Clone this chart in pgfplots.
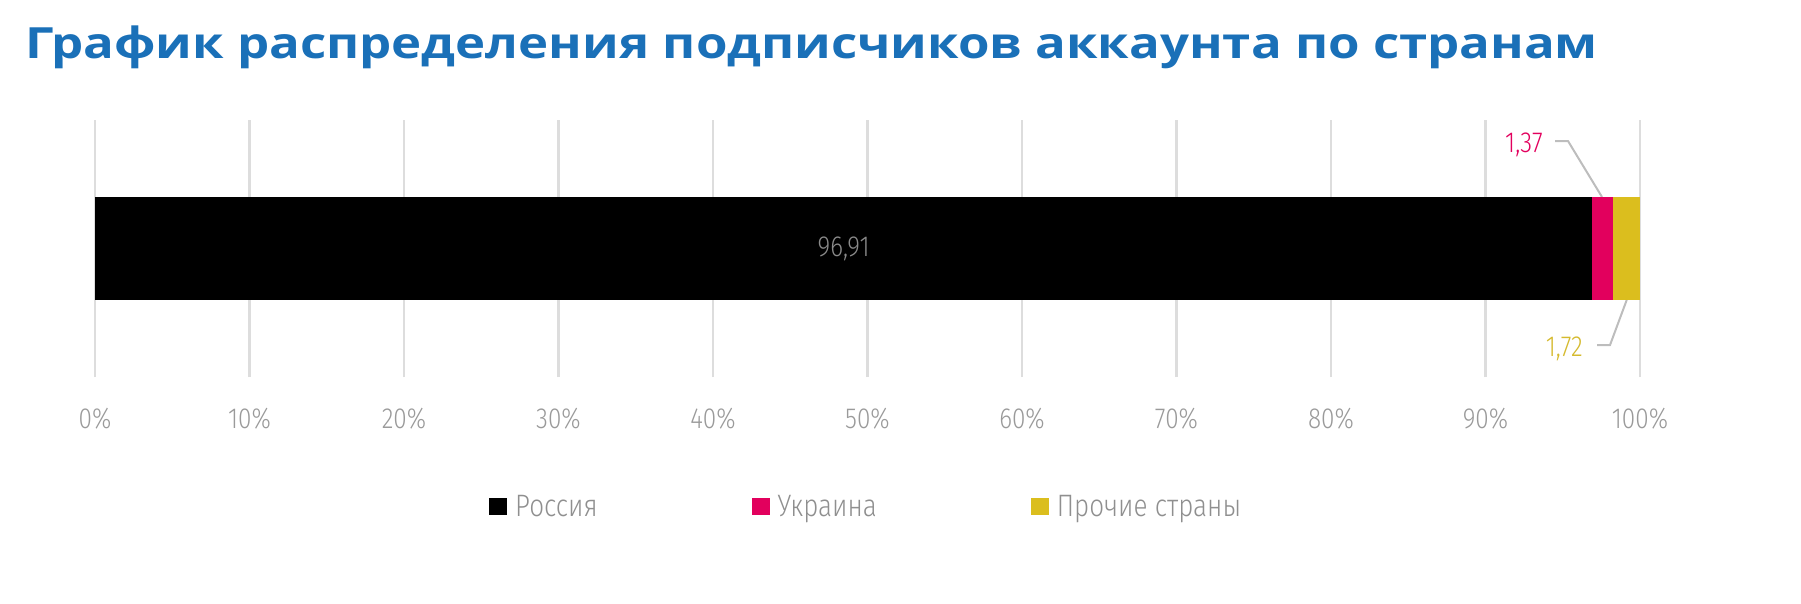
\documentclass[border=0pt]{standalone}
\usepackage{fontspec}
\usepackage{pgfplots}
\pgfplotsset{compat=1.18}
\setmainfont{Open Sans}
\newfontfamily\titlefont{Open Sans}[FakeStretch=1.185]
\newfontfamily\lightfont{Fira Sans Light}[FakeStretch=0.84]
\definecolor{titleblue}{HTML}{1A70B8}
\definecolor{rus}{HTML}{000000}
\definecolor{ukr}{HTML}{E2005D}
\definecolor{oth}{HTML}{DBBE1E}
\definecolor{othtxt}{HTML}{D5BA2E}
\definecolor{gridc}{HTML}{DDDDDD}
\definecolor{ticktxt}{HTML}{9A9A9A}
\definecolor{legtxt}{HTML}{8F8F8F}
\definecolor{valtxt}{HTML}{8A8A8A}
\definecolor{leader}{HTML}{BDBDBD}
\begin{document}
\begin{tikzpicture}
\useasboundingbox (0,0) rectangle (1801bp,-604bp);
\node[anchor=base west, inner sep=0, text=titleblue,
      font=\titlefont\fontsize{43bp}{43bp}\selectfont\bfseries] at (25bp,-58bp)
  {График распределения подписчиков аккаунта по странам};
\begin{axis}[
  at={(95bp,-377bp)}, anchor=south west,
  scale only axis,
  width=1545bp, height=257bp,
  xbar stacked,
  bar width=103bp,
  xmin=0, xmax=100,
  ymin=-1, ymax=1,
  enlargelimits=false,
  clip=false,
  xtick={0,10,...,100},
  ytick=\empty,
  xmajorgrids,
  grid style={draw=gridc, line width=2.6bp},
  axis line style={draw=none},
  tick style={draw=none},
  xticklabel={\pgfmathprintnumber[assume math mode=true]{\tick}\%},
  xticklabel style={anchor=base, yshift=-51bp, text=ticktxt,
    font=\lightfont\fontsize{29bp}{29bp}\selectfont},
  legend columns=3,
  legend cell align=left,
  legend style={at={(0.2550,-0.5039)}, anchor=west, draw=none, fill=none,
    inner sep=0pt, nodes={inner sep=0pt, text=legtxt,
    font=\lightfont\fontsize{31bp}{31bp}\selectfont},
    /tikz/every odd column/.append style={column sep=8bp},
    /tikz/every even column/.append style={column sep=154bp}},
  legend image code/.code={\fill[#1] (0bp,-8.5bp) rectangle (18bp,8.5bp);},
]
\addplot[fill=rus, draw=none] coordinates {(96.91,0)};
\addlegendentry{Россия}
\addplot[fill=ukr, draw=none] coordinates {(1.37,0)};
\addlegendentry{Украина}
\addplot[fill=oth, draw=none] coordinates {(1.72,0)};
\addlegendentry{Прочие страны}

\coordinate (rusmid) at (axis cs:48.455,0);
\node[anchor=base east, inner sep=0, text=ukr,
  font=\lightfont\fontsize{29bp}{29bp}\selectfont]
  at (axis cs:93.72,0.751) {1,37};
\draw[leader, line width=2bp] (axis cs:94.50,0.8366) -- (axis cs:95.34,0.8366)
  -- (axis cs:97.54,0.4008);
\node[anchor=base east, inner sep=0, text=othtxt,
  font=\lightfont\fontsize{29bp}{29bp}\selectfont]
  at (axis cs:96.31,-0.844) {1,72};
\draw[leader, line width=2bp] (axis cs:97.22,-0.751) -- (axis cs:98.06,-0.751)
  -- (axis cs:99.14,-0.4008);
\end{axis}
% value of the first segment, drawn after the stacked bars
\node[text=valtxt, font=\lightfont\fontsize{29bp}{29bp}\selectfont]
  at (rusmid) {96,91};
\end{tikzpicture}
\end{document}
